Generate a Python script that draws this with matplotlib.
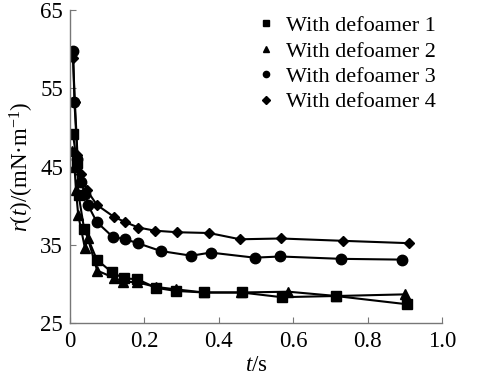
import matplotlib.pyplot as plt
from matplotlib.lines import Line2D

plt.rcParams['font.family'] = 'Liberation Serif'
plt.rcParams['mathtext.fontset'] = 'custom'
plt.rcParams['mathtext.rm'] = 'Liberation Serif'
plt.rcParams['mathtext.it'] = 'Liberation Serif:italic'

# defoamer 1 (squares)
t1 = [0.008, 0.019, 0.023, 0.038, 0.072, 0.112, 0.145, 0.181, 0.231, 0.284, 0.36, 0.461, 0.569, 0.714, 0.905]
r1 = [49.1, 45.4, 41.4, 37.0, 33.1, 31.5, 30.7, 30.6, 29.5, 29.1, 28.9, 28.9, 28.3, 28.45, 27.4]
# defoamer 2 (triangles)
t2 = [0.006, 0.012, 0.016, 0.022, 0.04, 0.048, 0.073, 0.117, 0.143, 0.181, 0.232, 0.285, 0.36, 0.46, 0.587, 0.716, 0.9]
r2 = [47.0, 45.0, 42.0, 38.8, 34.6, 35.8, 31.7, 30.8, 30.3, 30.2, 29.6, 29.3, 28.9, 28.9, 29.0, 28.45, 28.66]
# defoamer 3 (circles)
t3 = [0.008, 0.012, 0.02, 0.03, 0.04, 0.048, 0.072, 0.115, 0.149, 0.182, 0.244, 0.326, 0.378, 0.496, 0.565, 0.728, 0.893]
r3 = [59.8, 53.2, 46.0, 43.0, 41.5, 40.1, 37.9, 36.0, 35.7, 35.2, 34.2, 33.6, 34.0, 33.35, 33.5, 33.2, 33.1]
# defoamer 4 (diamonds)
t4 = [0.008, 0.013, 0.02, 0.03, 0.045, 0.072, 0.117, 0.148, 0.184, 0.228, 0.288, 0.374, 0.457, 0.567, 0.735, 0.912]
r4 = [58.9, 53.3, 46.5, 44.0, 42.0, 40.1, 38.6, 37.9, 37.2, 36.8, 36.6, 36.5, 35.7, 35.8, 35.5, 35.2]

labels = ['With defoamer 1', 'With defoamer 2', 'With defoamer 3', 'With defoamer 4']
markers = ['s', '^', 'o', 'D']
sizes = [6.5, 6.5, 7.5, 5.5]

fig = plt.figure(figsize=(4.98, 3.78), dpi=100)
ax = fig.add_axes([0.1406, 0.1455, 0.7470, 0.828])

for t, r, m, s in zip([t1, t2, t3, t4], [r1, r2, r3, r4], markers, sizes):
    ax.plot(t, r, color='black', lw=1.5, marker=m, ms=s, mfc='black', mec='black')

ax.set_xlim(0, 1.0)
ax.set_ylim(25, 65)
ax.set_xticks([0, 0.2, 0.4, 0.6, 0.8, 1.0])
ax.set_xticklabels(['0', '0.2', '0.4', '0.6', '0.8', '1.0'])
ax.set_yticks([25, 35, 45, 55, 65])
for side in ['top', 'right']:
    ax.spines[side].set_visible(False)
for side in ['left', 'bottom']:
    ax.spines[side].set_color('#777777')
    ax.spines[side].set_linewidth(1.0)
ax.tick_params(direction='in', length=4, color='#777777', labelsize=16.5)
ax.tick_params(axis='x', pad=6)
ax.tick_params(axis='y', pad=5)

ax.set_xlabel('$t$/s', fontsize=16.5, labelpad=2)
ax.set_ylabel('$r$($t$)/(mN·m$^{-1}$)', fontsize=16.5, labelpad=3)

handles = [Line2D([], [], color='black', marker=m, linestyle='none', ms=4.5) for m in markers]
ax.legend(handles, labels, loc='upper left', bbox_to_anchor=(0.49, 1.0, 0, 0),
          bbox_transform=fig.transFigure, frameon=False, fontsize=16,
          handlelength=0.6, handletextpad=0.6, labelspacing=0.22, borderpad=0.2)

fig.savefig('out.png', dpi=100)
